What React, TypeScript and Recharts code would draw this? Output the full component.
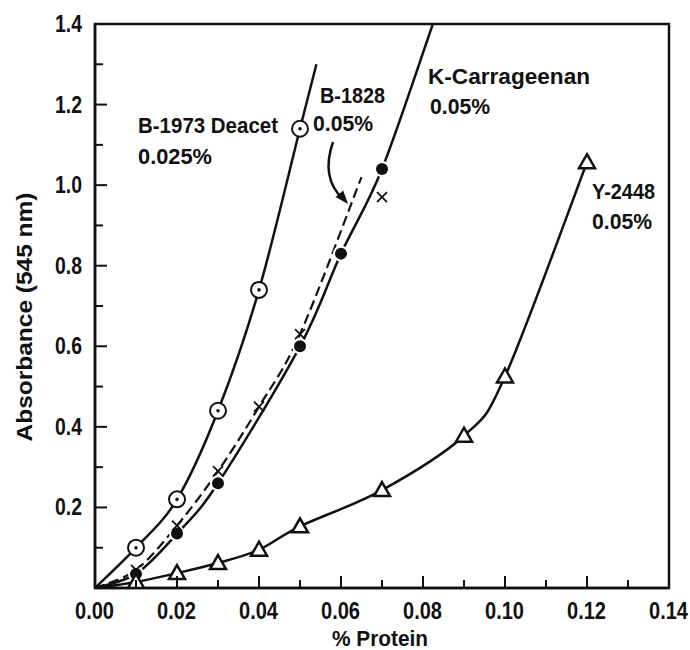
import React from 'react';
import {
  ComposedChart,
  Line,
  Scatter,
  XAxis,
  YAxis,
  ReferenceArea
} from 'recharts';

// tick positions
const xTicks = [0, 0.01, 0.02, 0.03, 0.04, 0.05, 0.06, 0.07, 0.08, 0.09, 0.1, 0.11, 0.12, 0.13, 0.14];
const yTicks = [0.1, 0.2, 0.3, 0.4, 0.5, 0.6, 0.7, 0.8, 0.9, 1.0, 1.1, 1.2, 1.3, 1.4];

const deacetPoints = [
  { x: 0.01, y: 0.10 },
  { x: 0.02, y: 0.22 },
  { x: 0.03, y: 0.44 },
  { x: 0.04, y: 0.74 },
  { x: 0.05, y: 1.14 }
];
const carrageenanPoints = [
  { x: 0.01, y: 0.035 },
  { x: 0.02, y: 0.135 },
  { x: 0.03, y: 0.26 },
  { x: 0.05, y: 0.60 },
  { x: 0.06, y: 0.83 },
  { x: 0.07, y: 1.04 }
];
const b1828Points = [
  { x: 0.01, y: 0.045 },
  { x: 0.02, y: 0.155 },
  { x: 0.03, y: 0.29 },
  { x: 0.04, y: 0.45 },
  { x: 0.05, y: 0.63 },
  { x: 0.07, y: 0.97 }
];
const y2448Points = [
  { x: 0.01, y: 0.015 },
  { x: 0.02, y: 0.037 },
  { x: 0.03, y: 0.062 },
  { x: 0.04, y: 0.095 },
  { x: 0.05, y: 0.153 },
  { x: 0.07, y: 0.243 },
  { x: 0.09, y: 0.378 },
  { x: 0.10, y: 0.525 },
  { x: 0.12, y: 1.057 }
];

// drawn curves (start at origin, ends)
const origin = { x: 0, y: 0 };
const deacetCurve = [origin, ...deacetPoints, { x: 0.054, y: 1.30 }];
const carrageenanCurve = [origin, ...carrageenanPoints, { x: 0.0824, y: 1.4 }];
const b1828Curve = [origin, ...b1828Points.slice(0, 5), { x: 0.065, y: 1.02 }];
const y2448Curve = [origin, ...y2448Points];

const FONT = "'Liberation Sans', Arial, sans-serif";
const INK = '#111';

// smooth curve through the points (catmull-rom in pixel space), hand-drawn look
const smoothCurve = (context: any) => {
  let pts: number[][] = [];
  return {
    areaStart() {},
    areaEnd() {},
    lineStart() {
      pts = [];
    },
    point(x: number, y: number) {
      pts.push([+x, +y]);
    },
    lineEnd() {
      if (!pts.length) return;
      context.moveTo(pts[0][0], pts[0][1]);
      for (let i = 0; i < pts.length - 1; i++) {
        const p0 = pts[i - 1] || pts[i];
        const p1 = pts[i];
        const p2 = pts[i + 1];
        const p3 = pts[i + 2] || p2;
        context.bezierCurveTo(
          p1[0] + (p2[0] - p0[0]) / 6,
          p1[1] + (p2[1] - p0[1]) / 6,
          p2[0] - (p3[0] - p1[0]) / 6,
          p2[1] - (p3[1] - p1[1]) / 6,
          p2[0],
          p2[1]
        );
      }
    }
  };
};

// condensed bold text: squeeze regular bold glyphs into the measured width
const T = ({ x, y, w, size = 22, children }: any) => (
  <text
    x={x}
    y={y}
    textLength={w}
    lengthAdjust="spacingAndGlyphs"
    fontFamily={FONT}
    fontWeight="bold"
    fontSize={size}
    fill={INK}
  >
    {children}
  </text>
);

const isMajor = (v: number, step: number) => Math.round(v / step) % 2 === 0;

const XTick = (props: any) => {
  const { x, y, payload } = props;
  const v = payload.value;
  const major = isMajor(v, 0.01);
  return (
    <g>
      <line x1={x} y1={y} x2={x} y2={y - (major ? 12 : 8)} stroke={INK} strokeWidth={2} />
      {major && (
        <T x={x - 20} y={y + 31} w={39} size={24}>
          {v.toFixed(2)}
        </T>
      )}
    </g>
  );
};

const YTick = (props: any) => {
  const { x, y, payload } = props;
  const v = payload.value;
  const major = isMajor(v, 0.1);
  return (
    <g>
      <line x1={x} y1={y} x2={x + (major ? 12 : 8)} y2={y} stroke={INK} strokeWidth={2} />
      {major && (
        <T x={x - 40} y={y + 8} w={27} size={24}>
          {v.toFixed(1)}
        </T>
      )}
    </g>
  );
};

const CircleDot = (props: any) => (
  <g>
    <circle cx={props.cx} cy={props.cy} r={8} fill="#fff" stroke={INK} strokeWidth={2} />
    <circle cx={props.cx} cy={props.cy} r={1.8} fill={INK} />
  </g>
);

const FilledDot = (props: any) => (
  <g>
    <circle cx={props.cx} cy={props.cy} r={8} fill="#fff" />
    <circle cx={props.cx} cy={props.cy} r={6} fill={INK} />
  </g>
);

const Cross = (props: any) => {
  const { cx, cy } = props;
  return (
    <g stroke={INK} strokeWidth={1.8}>
      <line x1={cx - 5} y1={cy - 5} x2={cx + 5} y2={cy + 5} />
      <line x1={cx - 5} y1={cy + 5} x2={cx + 5} y2={cy - 5} />
    </g>
  );
};

const Triangle = (props: any) => {
  const { cx, cy } = props;
  return (
    <polygon
      points={`${cx},${cy - 8} ${cx + 8},${cy + 6} ${cx - 8},${cy + 6}`}
      fill="#fff"
      stroke={INK}
      strokeWidth={2.5}
    />
  );
};

export default function App() {
  return (
    <div style={{ position: 'absolute', left: 0, top: 0, width: 690, height: 650, background: '#fff' }}>
      <ComposedChart width={690} height={650} margin={{ top: 24, right: 21, left: 0, bottom: 0 }}>
        <XAxis
          dataKey="x"
          type="number"
          domain={[0, 0.14]}
          ticks={xTicks}
          allowDataOverflow
          height={62}
          tickSize={0}
          tickMargin={0}
          tickLine={false}
          tick={<XTick />}
          axisLine={{ stroke: INK, strokeWidth: 2.5 }}
          interval={0}
        />
        <YAxis
          dataKey="y"
          type="number"
          domain={[0, 1.4]}
          ticks={yTicks}
          allowDataOverflow
          width={95}
          tickSize={0}
          tickMargin={0}
          tickLine={false}
          tick={<YTick />}
          axisLine={{ stroke: INK, strokeWidth: 2.5 }}
          interval={0}
        />
        <ReferenceArea x1={0} x2={0.14} y1={0} y2={1.4} fill="none" stroke={INK} strokeWidth={2.5} />

        <Line data={deacetCurve} dataKey="y" type={smoothCurve as any} stroke={INK} strokeWidth={2.5} dot={false} isAnimationActive={false} />
        <Line data={carrageenanCurve} dataKey="y" type={smoothCurve as any} stroke={INK} strokeWidth={2.5} dot={false} isAnimationActive={false} />
        <Line data={b1828Curve} dataKey="y" type={smoothCurve as any} stroke={INK} strokeWidth={2.2} strokeDasharray="10 5" dot={false} isAnimationActive={false} />
        <Line data={y2448Curve} dataKey="y" type={smoothCurve as any} stroke={INK} strokeWidth={2.5} dot={false} isAnimationActive={false} />

        <Scatter data={deacetPoints} dataKey="y" shape={<CircleDot />} isAnimationActive={false} />
        <Scatter data={carrageenanPoints} dataKey="y" shape={<FilledDot />} isAnimationActive={false} />
        <Scatter data={y2448Points} dataKey="y" shape={<Triangle />} isAnimationActive={false} />
        <Scatter data={b1828Points} dataKey="y" shape={<Cross />} isAnimationActive={false} />
      </ComposedChart>

      <svg width={690} height={650} style={{ position: 'absolute', left: 0, top: 0, pointerEvents: 'none' }}>
        <g transform="translate(32, 317) rotate(-90)">
          <T x={-124.5} y={0} w={249}>Absorbance (545 nm)</T>
        </g>
        <T x={332} y={646} w={96}>% Protein</T>

        <T x={138} y={133} w={140}>B-1973 Deacet</T>
        <T x={138} y={164} w={74}>0.025%</T>
        <T x={320} y={103} w={65}>B-1828</T>
        <T x={313} y={131} w={60}>0.05%</T>
        <T x={428} y={84} w={162}>K-Carrageenan</T>
        <T x={430} y={114} w={60}>0.05%</T>
        <T x={592} y={199} w={63}>Y-2448</T>
        <T x={592} y={229} w={60}>0.05%</T>

        <path d="M333,142 C325,165 328,185 343,199" fill="none" stroke={INK} strokeWidth={2.5} />
        <polygon points="348,204 335.6,196.9 343.2,190.6" fill={INK} />
      </svg>
    </div>
  );
}
